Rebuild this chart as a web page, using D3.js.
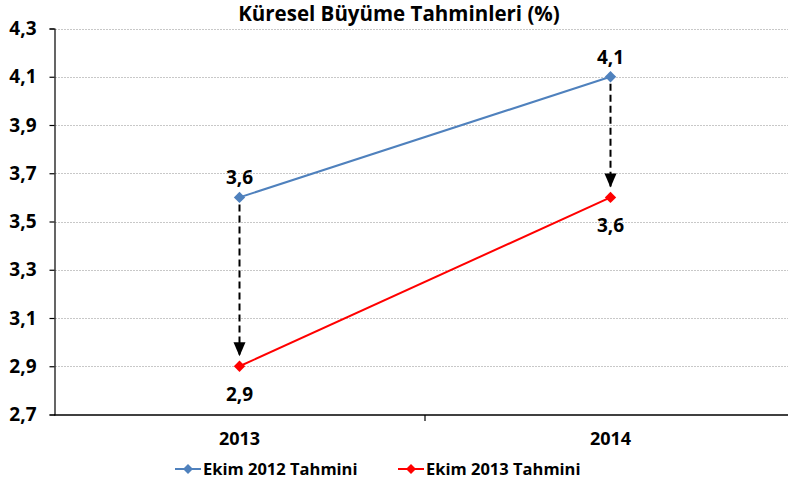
<!DOCTYPE html>
<meta charset="utf-8">
<style>
body{margin:0;background:#fff;}
text{font-family:"Open Sans",sans-serif;font-weight:bold;fill:#000;}
.grid line{stroke:#c8c8c8;stroke-width:1;stroke-dasharray:2,1;}
</style>
<body>
<script src="https://d3js.org/d3.v7.min.js"></script>
<script>

var years=["2013","2014"];
var ekim2012=[3.6,4.1];
var ekim2013=[2.9,3.6];
var yTicks=[2.7,2.9,3.1,3.3,3.5,3.7,3.9,4.1,4.3];
var seriesNames=["Ekim 2012 Tahmini","Ekim 2013 Tahmini"];
var colors=["#4f81bd","#ff0000"];

var W=788,H=489;
var svg=d3.select("body").append("svg").attr("width",W).attr("height",H);

var x=d3.scaleBand().domain(years).range([54,796]).padding(0);
var y=d3.scaleLinear().domain([2.7,4.3]).range([414.5,28.5]);
var cx=d=>x(d)+x.bandwidth()/2;
var fmt=v=>d3.format(".1f")(v).replace(".",",");

// gridlines
svg.append("g").attr("class","grid")
	.selectAll("line").data(yTicks.slice(1)).enter().append("line")
	.attr("x1",55).attr("x2",788)
	.attr("y1",d=>Math.round(y(d))+0.5).attr("y2",d=>Math.round(y(d))+0.5);

// y axis
var yAxis=svg.append("g").attr("transform","translate(54.5,0)")
	.call(d3.axisLeft(y).tickValues(yTicks).tickSize(5).tickPadding(13).tickFormat(fmt));
yAxis.select(".domain").attr("stroke","#000").attr("stroke-width",1.2);
yAxis.selectAll(".tick line").attr("stroke","#000").attr("stroke-width",1.2);
yAxis.selectAll("text").style("font-size","19px").attr("fill","#000");

// x axis
var xAxis=svg.append("g").attr("transform","translate(0,"+(y(2.7)+0.5)+")")
	.call(d3.axisBottom(x).tickSize(0).tickPadding(17));
xAxis.select(".domain").attr("stroke","#000").attr("stroke-width",1.5).attr("d","M54,0H788");
xAxis.selectAll("text").style("font-size","18px").attr("fill","#000");
xAxis.append("line").attr("x1",x("2014")).attr("x2",x("2014")).attr("y1",0).attr("y2",6)
	.attr("stroke","#000").attr("stroke-width",1.2);

// dashed arrows from old to new estimate
svg.append("g").selectAll("line").data(years).enter().append("line")
	.attr("x1",d=>cx(d)).attr("x2",d=>cx(d))
	.attr("y1",(d,i)=>y(ekim2012[i])+7)
	.attr("y2",(d,i)=>y(ekim2013[i])-11)
	.attr("stroke","#000").attr("stroke-width",2).attr("stroke-dasharray","7,4");
svg.append("g").selectAll("path").data(years).enter().append("path")
	.attr("d",(d,i)=>{var tx=cx(d),ty=y(ekim2013[i])-10;return "M"+(tx-6)+","+(ty-14)+"L"+(tx+6)+","+(ty-14)+"L"+tx+","+ty+"Z";})
	.attr("fill","#000");

// series
var series=[ekim2012,ekim2013];
var line=d3.line().x((d,i)=>cx(years[i])).y(d=>y(d));
var diamond=d3.symbol().type(d3.symbolSquare).size(64);
series.forEach(function(s,k){
	svg.append("path").datum(s).attr("d",line).attr("fill","none")
		.attr("stroke",colors[k]).attr("stroke-width",2);
	svg.append("g").selectAll("path").data(s).enter().append("path")
		.attr("d",diamond)
		.attr("transform",(d,i)=>"translate("+cx(years[i])+","+y(d)+") rotate(45)")
		.attr("fill",colors[k]);
	svg.append("g").selectAll("text").data(s).enter().append("text")
		.attr("x",(d,i)=>cx(years[i]))
		.attr("y",d=>k==0? y(d)-13 : y(d)+35)
		.attr("text-anchor","middle").style("font-size","19px")
		.text(fmt);
});

// title
svg.append("text").attr("x",399).attr("y",21).attr("text-anchor","middle")
	.style("font-size","20.5px").text("Küresel Büyüme Tahminleri (%)");

// legend
var legX=[175,398];
var leg=svg.append("g").selectAll("g").data(seriesNames).enter().append("g")
	.attr("transform",(d,i)=>"translate("+legX[i]+",469)");
leg.append("line").attr("x1",0).attr("x2",26).attr("stroke",(d,i)=>colors[i]).attr("stroke-width",2);
leg.append("path").attr("d",d3.symbol().type(d3.symbolSquare).size(50)).attr("transform","translate(13,0) rotate(45)").attr("fill",(d,i)=>colors[i]);
leg.append("text").attr("x",28).attr("y",6).style("font-size","16.5px").text(d=>d);

</script>
</body>
